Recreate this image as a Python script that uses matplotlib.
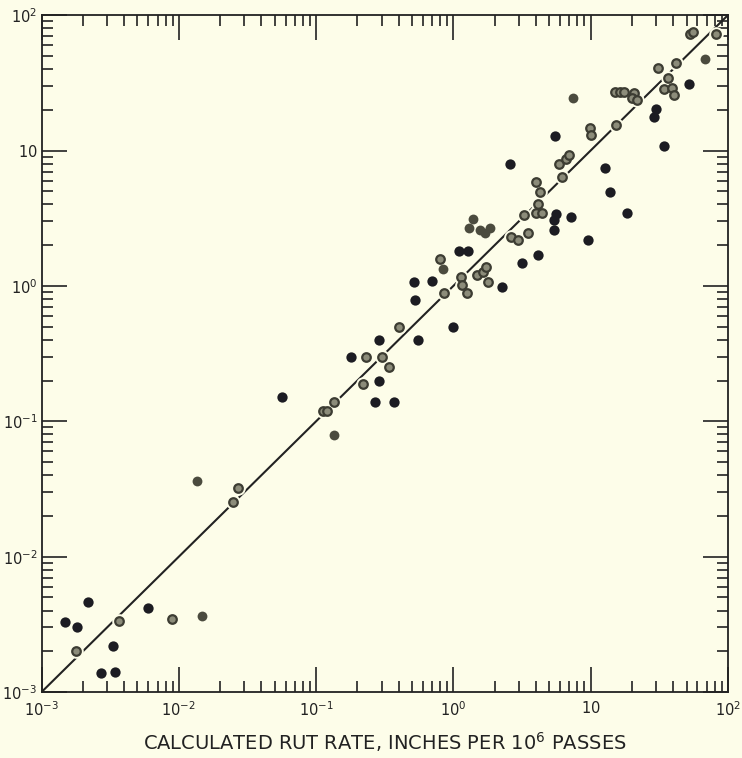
import matplotlib
matplotlib.use('Agg')
import matplotlib.pyplot as plt
from matplotlib.ticker import FixedLocator, FixedFormatter, LogLocator, NullFormatter

# 黒丸（塗りつぶし）
black_x = [0.00149, 0.00180, 0.00218, 0.00270, 0.00345, 0.00334, 0.00593, 0.0564, 0.18, 0.289,
           0.287, 0.270, 0.370, 0.520, 0.698, 0.528, 0.552, 0.998, 1.10, 1.27,
           2.28, 3.15, 4.11, 5.37, 5.63, 5.37, 7.19, 9.55, 2.58, 5.53,
           12.8, 13.9, 18.5, 30.0, 29.1, 34.4, 52.1]
black_y = [0.00330, 0.00303, 0.00459, 0.00139, 0.00140, 0.00218, 0.00417, 0.150, 0.30, 0.398,
           0.199, 0.138, 0.138, 1.07, 1.09, 0.782, 0.398, 0.494, 1.81, 1.80,
           0.99, 1.47, 1.70, 3.06, 3.40, 2.61, 3.24, 2.17, 7.99, 12.8,
           7.38, 4.96, 3.43, 20.2, 17.7, 10.8, 30.8]

# 灰色の塗りつぶし
gray_x = [0.0147, 0.01353, 0.1355, 1.38, 1.30, 1.56, 1.69, 1.84, 0.845, 7.44, 68.4]
gray_y = [0.00364, 0.0362, 0.079, 3.10, 2.66, 2.58, 2.44, 2.66, 1.34, 24.5, 47.6]

# 白抜き丸
open_x = [0.00178, 0.00365, 0.00885, 0.0250, 0.0269, 0.113, 0.121, 0.1355, 0.220, 0.230,
          0.302, 0.340, 0.400, 0.798, 0.853, 1.13, 1.16, 1.25, 1.49, 1.65,
          1.73, 1.78, 2.65, 2.94, 3.50, 3.29, 3.98, 4.45, 4.17, 4.02,
          4.25, 5.9, 6.6, 6.9, 6.18, 9.82, 10.05, 15.3, 15.1, 16.3,
          17.6, 20.7, 19.9, 21.9, 30.8, 41.9, 36.8, 34.3, 39.0, 40.7,
          53.0, 56.0, 81.8]
open_y = [0.00202, 0.00336, 0.00344, 0.0252, 0.0319, 0.12, 0.12, 0.138, 0.189, 0.299,
          0.298, 0.250, 0.497, 1.59, 0.889, 1.17, 1.01, 0.889, 1.20, 1.27,
          1.37, 1.06, 2.28, 2.18, 2.48, 3.35, 3.47, 3.47, 4.0, 5.87,
          4.96, 7.9, 8.7, 9.3, 6.4, 14.6, 13.0, 15.4, 27.0, 27.0,
          27.0, 26.7, 24.5, 23.6, 40.8, 44.0, 34.1, 28.4, 29.0, 25.7,
          73.2, 75.3, 73.2]

line_x = [1e-3, 1e2]
line_y = [1e-3, 1e2]

tick_vals = [1e-3, 1e-2, 1e-1, 1e0, 1e1, 1e2]
tick_labels = ['$10^{-3}$', '$10^{-2}$', '$10^{-1}$', '$10^{0}$', '$10$', '$10^{2}$']

bg = '#fdfde9'
ink = '#222222'

fig = plt.figure(figsize=(7.42, 7.58), dpi=100, facecolor=bg)
ax = fig.add_axes([0.056, 0.087, 0.925, 0.893], facecolor=bg)

ax.plot(line_x, line_y, color=ink, lw=1.5, zorder=1)

# 線の切れ目（点の周りを背景色で隠す）
ax.scatter(open_x + gray_x, open_y + gray_y, s=110, color=bg, zorder=2, linewidths=0)
ax.scatter(black_x, black_y, s=55, color='#1c1c22', zorder=3, linewidths=0)
ax.scatter(gray_x, gray_y, s=50, color='#4b4b3e', zorder=3, linewidths=0)
ax.scatter(open_x, open_y, s=38, facecolor='#8c8c7a', edgecolor='#3c3c32', linewidths=1.6, zorder=3)

ax.set_xscale('log')
ax.set_yscale('log')
ax.set_xlim(1e-3, 1e2)
ax.set_ylim(1e-3, 1e2)

for axis in (ax.xaxis, ax.yaxis):
    axis.set_major_locator(FixedLocator(tick_vals))
    axis.set_major_formatter(FixedFormatter(tick_labels))
    axis.set_minor_locator(LogLocator(base=10, subs=range(2, 10)))
    axis.set_minor_formatter(NullFormatter())

ax.tick_params(which='both', direction='in', top=True, right=True, colors=ink)
ax.tick_params(which='major', length=18, width=1.2, labelsize=10.5, pad=6)
ax.tick_params(which='minor', length=8, width=1.2)
ax.tick_params(axis='y', which='major', pad=3)

for sp in ax.spines.values():
    sp.set_linewidth(1.3)
    sp.set_color(ink)

ax.set_xlabel('CALCULATED RUT RATE, INCHES PER 10$^{6}$ PASSES', fontsize=14,
              color=ink, labelpad=8)

fig.savefig('out.png', dpi=100, facecolor=bg)
